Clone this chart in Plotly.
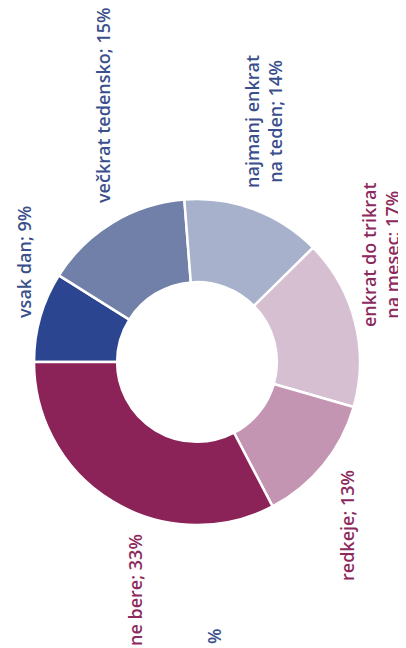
import plotly.graph_objects as go

# reading frequency (slices go clockwise from 9 o'clock)
labels = ["vsak dan", "večkrat tedensko", "najmanj enkrat na teden",
          "enkrat do trikrat na mesec", "redkeje", "ne bere"]
values = [9, 15, 14, 17, 13, 33]
colors = ["#2c4590", "#7080a8", "#a7b1cc", "#d7bfd2", "#c495b3", "#8c2358"]

# label texts as they appear next to the ring
label_texts = ["vsak dan; 9%", "večkrat tedensko; 15%", "najmanj enkrat<br>na teden; 14%",
               "enkrat do trikrat<br>na mesec; 17%", "redkeje; 13%", "ne bere; 33%"]

W, H = 406, 648
OFF = 8  # page body margin
BLUE = "#3a4f8c"
WINE = "#8c2a5e"


def px(x, y):
    return (x - OFF) / W, 1 - (y - OFF) / H


fig = go.Figure()
fig.add_trace(go.Pie(
    labels=labels,
    values=values,
    sort=False,
    direction="clockwise",
    rotation=270,
    hole=0.49,
    marker=dict(colors=colors, line=dict(color="white", width=2.5)),
    textinfo="none",
    hoverinfo="label+percent",
    domain=dict(x=[(34 - OFF) / W, (360 - OFF) / W],
                y=[1 - (525 - OFF) / H, 1 - (199 - OFF) / H]),
    showlegend=False,
))

# label positions in pixels (centre of rotated text)
label_pos = [(24, 262), (103, 105), (263, 121), (380, 255), (347, 526), (135, 590)]
label_cols = [BLUE, BLUE, BLUE, WINE, WINE, WINE]

for txt, (lx, ly), col in zip(label_texts, label_pos, label_cols):
    ax, ay = px(lx, ly)
    fig.add_annotation(
        x=ax, y=ay, xref="paper", yref="paper",
        xanchor="center", yanchor="middle",
        text=txt, showarrow=False, textangle=-90, align="center",
        font=dict(family="Open Sans", size=18, color=col, weight=600),
    )

# fragment of a neighbouring label at the page edge
fx, fy = px(214, 636)
fig.add_annotation(
    x=fx, y=fy, xref="paper", yref="paper",
    xanchor="center", yanchor="middle",
    text="%", showarrow=False, textangle=-90,
    font=dict(family="Open Sans", size=18, color=BLUE, weight=600),
)

fig.update_layout(
    width=W, height=H,
    margin=dict(l=0, r=0, t=0, b=0),
    paper_bgcolor="white",
    plot_bgcolor="white",
)

fig.write_html("out.html")
